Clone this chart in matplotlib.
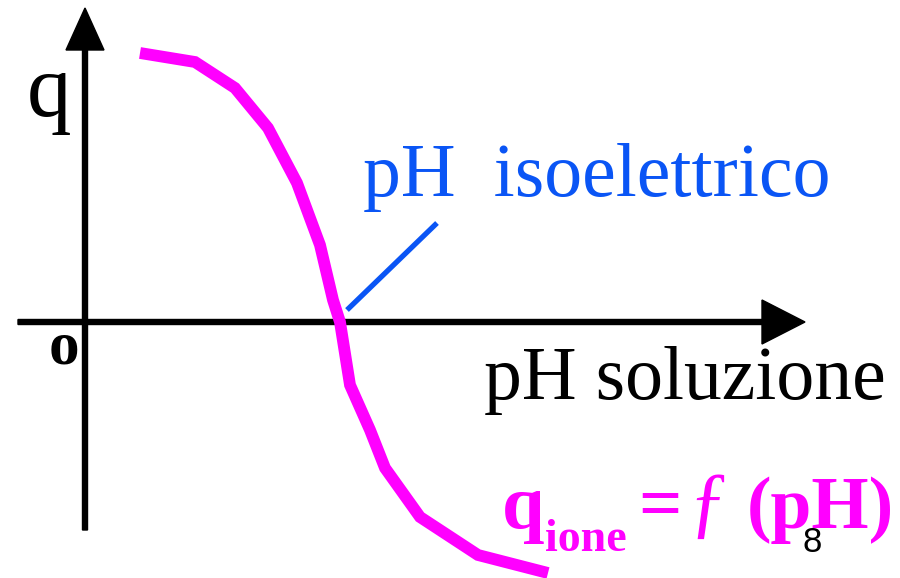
import matplotlib
matplotlib.use("Agg")
import matplotlib.pyplot as plt

# curve (origin of the axes = 0, units ~ pixels)
ph = [55, 110, 150, 183, 212, 235, 248, 255, 265, 285, 300, 335, 393, 463]
q = [269, 260, 234, 194, 139, 77, 22, 0, -63, -108, -146, -195, -233, -251]

MAGENTA = "#FF00FF"
BLUE = "#0A55F5"
SERIF = ["Liberation Serif", "DejaVu Serif"]

fig = plt.figure(figsize=(9, 5.78), dpi=100)
ax = fig.add_axes([0, 0, 1, 1])
ax.set_xlim(-85, 815)
ax.set_ylim(-256, 322)
ax.axis("off")

# axes with arrow heads
ax.arrow(0, -208, 0, 522, width=5, head_width=38, head_length=42,
         length_includes_head=True, color="black", zorder=2)
ax.arrow(-67, 0, 787, 0, width=5, head_width=44, head_length=43,
         length_includes_head=True, color="black", zorder=2)

# charge curve
ax.plot(ph, q, color=MAGENTA, lw=8.5, solid_joinstyle="miter",
        solid_capstyle="butt", zorder=3)

# pointer to isoelectric point
ax.plot([262, 352], [12, 99], color=BLUE, lw=3.8, solid_capstyle="butt", zorder=3)

ax.text(-58, 206, "q", family=SERIF, fontsize=64, color="black")
ax.text(-36, -42, "o", family=SERIF, fontsize=44, fontweight="bold", color="black")
ax.text(278, 126, "pH  isoelettrico", family=SERIF, fontsize=54.5, color=BLUE)
ax.text(399, -77, "pH soluzione", family=SERIF, fontsize=54.5, color="black")

# q_ione = f(pH)
ax.text(417, -206, "q", family=SERIF, fontsize=55, fontweight="bold", color=MAGENTA)
ax.text(460, -229, "ione", family=SERIF, fontsize=33, fontweight="bold", color=MAGENTA)
ax.text(553, -206, "=", family=SERIF, fontsize=55, fontweight="bold", color=MAGENTA)
ax.text(603, -206, "ƒ", family=SERIF, fontsize=58, color=MAGENTA)
ax.text(662, -206, "(pH)", family=SERIF, fontsize=53, fontweight="bold", color=MAGENTA)

# slide number
ax.text(727, -221, "8", family=["Liberation Sans", "DejaVu Sans"], fontsize=25,
        color="black", ha="center", va="center")

fig.savefig("out.png", dpi=100)
